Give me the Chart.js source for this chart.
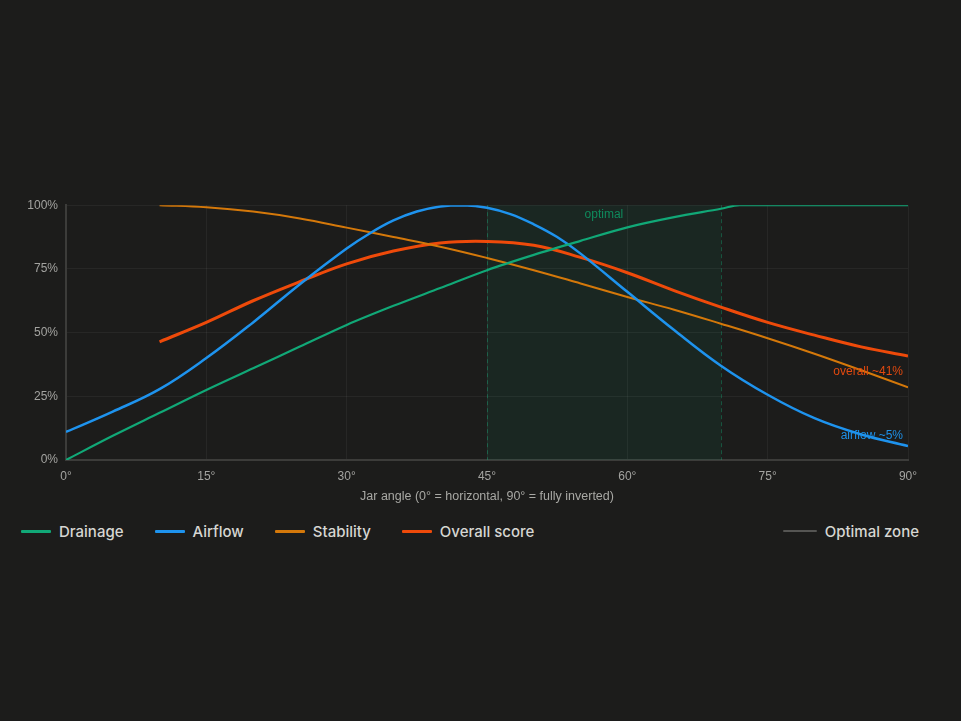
<!DOCTYPE html>
<html>
<head>
<meta charset="utf-8">
<script src="https://cdn.jsdelivr.net/npm/chart.js@4/dist/chart.umd.min.js"></script>
<style>
    html, body { margin: 0; padding: 0; background: #1c1c1b; }
    body { width: 961px; height: 721px; position: relative; overflow: hidden; font-family: Inter, "Noto Sans", sans-serif; }
    #chart-wrap { position: absolute; left: 20px; top: 190px; width: 920px; height: 320px; }
    #legend { position: absolute; left: 21px; top: 520px; width: 898px; height: 22px;
              display: flex; justify-content: space-between; align-items: center; }
    #legend .group { display: flex; align-items: center; }
    .item { display: flex; align-items: center; margin-right: 31px; color: #d6d6d2; font-size: 15px; font-weight: 500; }
    .item .swatch { width: 30px; height: 3px; border-radius: 1px; margin-right: 8px; }
    .item.last { margin-right: 0; }
</style>
</head>
<body>
<div id="chart-wrap"><canvas id="angleChart"></canvas></div>
<div id="legend"></div>

<script>
// ==============================================================================
// 1. DATA
// ==============================================================================
const xTicks = [0, 15, 30, 45, 60, 75, 90];
const yTicks = [0, 25, 50, 75, 100];

const drainageAngles = [0, 5, 10, 15, 20, 25, 30, 35, 40, 45, 50, 55, 60, 65, 70, 72, 75, 80, 85, 90];
const drainageValues = [0, 9.5, 18.5, 27.5, 36, 44.5, 53, 60.5, 67.5, 74.5, 80.5, 86, 91.3, 95.3, 98.6, 100, 100, 100, 100, 100];

const airflowAngles = [0, 5, 10, 15, 20, 25, 30, 32.5, 35, 37.5, 40, 42.5, 45, 47.5, 50, 52.5, 55, 60, 65, 70, 75, 80, 85, 90];
const airflowValues = [11, 19, 27.8, 40, 54, 69, 83, 89, 94, 97.5, 99.5, 100, 99, 96.5, 92.5, 87.5, 81, 66, 51, 37, 25.6, 16.4, 10, 5.5];

const stabilityAngles = [10, 15, 20, 25, 30, 35, 40, 45, 50, 55, 60, 65, 70, 75, 80, 85, 90];
const stabilityValues = [100, 99.2, 97.5, 94.8, 91.2, 87.5, 83.7, 79.3, 74.5, 69.3, 64, 59, 53.5, 47.8, 41.7, 35.2, 28.5];

const overallAngles = [10, 15, 20, 25, 30, 35, 40, 45, 50, 55, 60, 65, 70, 75, 80, 85, 90];
const overallValues = [46.4, 54, 62.5, 70, 77, 82, 85.2, 85.8, 84.3, 79.5, 73.5, 66.5, 60, 54, 49, 44.4, 40.8];

const optimalZone = [45, 70];
const endLabels = [
    { text: 'overall ~41%', value: 34.6, color: '#e2490f' },
    { text: 'airflow ~5%', value: 9.5, color: '#1e90e8' }
];

const seriesNames = ['Drainage', 'Airflow', 'Stability', 'Overall score'];
const seriesColors = ['#11a877', '#1e93ee', '#d4780a', '#ee4a0a'];

// ==============================================================================
// 2. HELPERS
// ==============================================================================
function toPoints(xs, ys) {
    return xs.map((x, i) => ({ x: x, y: ys[i] }));
}

function lineSet(label, xs, ys, color, width, monotone) {
    return {
        label: label,
        data: toPoints(xs, ys),
        borderColor: color,
        backgroundColor: color,
        borderWidth: width,
        pointRadius: 0,
        pointHoverRadius: 0,
        fill: false,
        tension: 0.4,
        cubicInterpolationMode: monotone ? 'monotone' : 'default'
    };
}

// shaded optimal band, dashed edges and the in-plot text labels
const zonePlugin = {
    id: 'zonePlugin',
    beforeDatasetsDraw(chart) {
        const { ctx, chartArea, scales } = chart;
        const x0 = scales.x.getPixelForValue(optimalZone[0]);
        const x1 = scales.x.getPixelForValue(optimalZone[1]);
        ctx.save();
        ctx.fillStyle = 'rgba(16, 185, 129, 0.075)';
        ctx.fillRect(x0, chartArea.top, x1 - x0, chartArea.bottom - chartArea.top);
        ctx.strokeStyle = 'rgba(16, 185, 129, 0.35)';
        ctx.lineWidth = 1;
        ctx.setLineDash([4, 3]);
        [x0, x1].forEach(px => {
            ctx.beginPath();
            ctx.moveTo(Math.round(px) + 0.5, chartArea.top);
            ctx.lineTo(Math.round(px) + 0.5, chartArea.bottom);
            ctx.stroke();
        });
        ctx.setLineDash([]);
        ctx.font = '12px "Liberation Sans", Arial, sans-serif';
        ctx.fillStyle = '#0f8a5c';
        ctx.textAlign = 'center';
        ctx.textBaseline = 'middle';
        ctx.fillText('optimal', (x0 + x1) / 2, chartArea.top + 9);
        ctx.restore();
    },
    afterDatasetsDraw(chart) {
        const { ctx, chartArea, scales } = chart;
        ctx.save();
        ctx.font = '12px "Liberation Sans", Arial, sans-serif';
        ctx.textAlign = 'right';
        ctx.textBaseline = 'middle';
        endLabels.forEach(l => {
            ctx.fillStyle = l.color;
            ctx.fillText(l.text, chartArea.right - 5, scales.y.getPixelForValue(l.value));
        });
        ctx.restore();
    }
};

// ==============================================================================
// 3. RENDER
// ==============================================================================
function renderChart() {
    const ctx = document.getElementById('angleChart').getContext('2d');
    const tickFont = { family: '"Liberation Sans", Arial, sans-serif', size: 12 };

    return new Chart(ctx, {
        type: 'line',
        data: {
            datasets: [
                lineSet(seriesNames[0], drainageAngles, drainageValues, seriesColors[0], 2.2, true),
                lineSet(seriesNames[1], airflowAngles, airflowValues, seriesColors[1], 2.5, false),
                lineSet(seriesNames[2], stabilityAngles, stabilityValues, seriesColors[2], 2, false),
                lineSet(seriesNames[3], overallAngles, overallValues, seriesColors[3], 3, false)
            ]
        },
        options: {
            responsive: true,
            maintainAspectRatio: false,
            animation: false,
            layout: { padding: { top: 15, right: 32, left: 0, bottom: 0 } },
            plugins: { legend: { display: false }, tooltip: { enabled: false } },
            scales: {
                x: {
                    type: 'linear',
                    min: 0,
                    max: 90,
                    afterBuildTicks: s => { s.ticks = xTicks.map(v => ({ value: v })); },
                    afterFit: s => { s.height = 50; },
                    ticks: { color: '#a3a3a0', font: tickFont, padding: 9, callback: v => v + '°' },
                    grid: { color: 'rgba(255,255,255,0.05)', drawTicks: false },
                    border: { color: '#3c3c3a', width: 2 },
                    title: {
                        display: true,
                        text: 'Jar angle (0° = horizontal, 90° = fully inverted)',
                        color: '#a8a8a4',
                        font: { family: '"Liberation Sans", Arial, sans-serif', size: 12.5 },
                        padding: { top: 4, bottom: 6 }
                    }
                },
                y: {
                    min: 0,
                    max: 100,
                    afterBuildTicks: s => { s.ticks = yTicks.map(v => ({ value: v })); },
                    afterFit: s => { s.width = 46; },
                    ticks: { color: '#a3a3a0', font: tickFont, padding: 8, callback: v => v + '%' },
                    grid: { color: 'rgba(255,255,255,0.05)', drawTicks: false },
                    border: { color: '#3c3c3a', width: 2 }
                }
            }
        },
        plugins: [zonePlugin]
    });
}

function renderLegend() {
    let html = '<div class="group">';
    seriesNames.forEach((name, i) => {
        html += `<div class="item${i === seriesNames.length - 1 ? ' last' : ''}">
                    <span class="swatch" style="background:${seriesColors[i]}"></span>${name}</div>`;
    });
    html += '</div>';
    html += `<div class="item last"><span class="swatch" style="background:#555553;height:2px;width:34px"></span>Optimal zone</div>`;
    document.getElementById('legend').innerHTML = html;
}

// ==============================================================================
// 4. INIT
// ==============================================================================
renderChart();
renderLegend();
</script>
</body>
</html>
